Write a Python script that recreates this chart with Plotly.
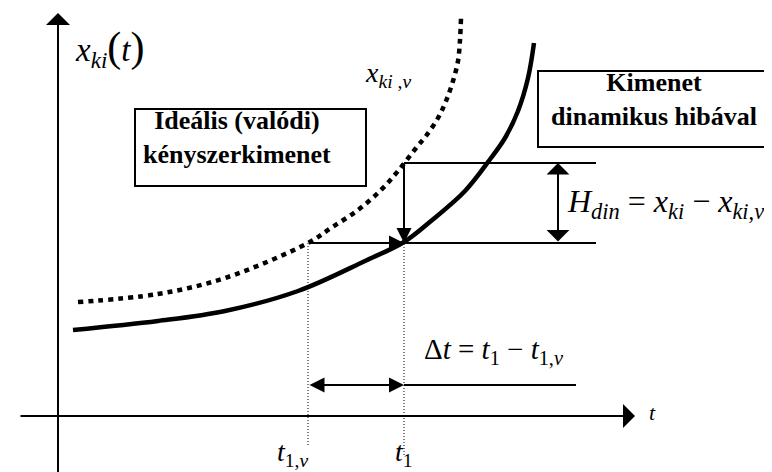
import plotly.graph_objects as go

# ---- data (diagram coordinates: t horizontal, x vertical; origin at axes crossing)
solid_t = [15, 100, 167, 240, 307, 346, 373, 407, 433, 447, 460, 470, 476]
solid_x = [86, 95, 105, 125, 155, 174, 195, 225, 258, 278, 305, 338, 373]

ideal_t = [20, 100, 167, 250, 273, 300, 323, 340, 358, 368, 380, 388, 395, 400, 402, 403]
ideal_x = [114, 122, 138, 173, 188, 206, 226, 245, 268, 280, 298, 315, 335, 355, 376, 398]

T1V = 250      # t_1,v
T1 = 346       # t_1
X_LOW = 173    # x_ki at t1 (= x_ki,v at t1,v)
X_HIGH = 253   # x_ki,v at t1
REF_END = 538
H_ARROW_T = 500
DT_Y = 31
DT_LINE_END = 518

FONT = "Liberation Serif"

fig = go.Figure()
fig.add_trace(go.Scatter(x=ideal_t, y=ideal_x, mode="lines",
                         line=dict(color="black", width=4.5, dash="5px,5px", shape="spline"),
                         hoverinfo="skip"))
fig.add_trace(go.Scatter(x=solid_t, y=solid_x, mode="lines",
                         line=dict(color="black", width=4.5, shape="spline"),
                         hoverinfo="skip"))

shapes = []
def line(x0, y0, x1, y1, width=2, dash=None):
    d = dict(type="line", xref="x", yref="y", x0=x0, y0=y0, x1=x1, y1=y1,
             line=dict(color="black", width=width))
    if dash:
        d["line"]["dash"] = dash
    shapes.append(d)

line(T1, X_HIGH, REF_END, X_HIGH)
line(T1, X_LOW, REF_END, X_LOW)
line(T1, DT_Y, DT_LINE_END, DT_Y)
line(T1V, X_LOW, T1V, -30, width=1, dash="1px,2px")
line(T1, X_HIGH, T1, -39, width=1, dash="1px,2px")
shapes.append(dict(type="rect", xref="x", yref="y", x0=77, y0=230, x1=308, y1=307,
                   line=dict(color="black", width=2), fillcolor="white"))
shapes.append(dict(type="rect", xref="x", yref="y", x0=480, y0=269, x1=720.5, y1=345,
                   line=dict(color="black", width=2), fillcolor="white"))

ann = []
def arrow(x, y, ax, ay, head=2, size=1.4, width=2, both=False):
    d = dict(x=x, y=y, ax=ax, ay=ay, xref="x", yref="y", axref="x", ayref="y",
             text="", showarrow=True, arrowhead=head, arrowsize=size,
             arrowwidth=width, arrowcolor="black", standoff=0, startstandoff=0)
    if both:
        d.update(arrowside="end+start", startarrowhead=head, startarrowsize=size)
    ann.append(d)

arrow(577, 0, -39, 0, head=1, size=2.0, width=2)
arrow(0, 403, 0, -59, head=1, size=2.0, width=2)
arrow(T1, X_LOW, T1, X_HIGH, head=2, size=1.5)
arrow(T1, X_LOW, T1V, X_LOW, head=2, size=1.5)
arrow(H_ARROW_T, X_HIGH, H_ARROW_T, X_LOW, head=1, size=1.9, both=True)
arrow(T1, DT_Y, T1V, DT_Y, head=2, size=1.5, both=True)

def text(t, x, s, size, xanchor="center", yanchor="middle", family=FONT):
    ann.append(dict(x=t, y=x, xref="x", yref="y", text=s, showarrow=False,
                    font=dict(family=family, size=size, color="black"),
                    xanchor=xanchor, yanchor=yanchor))

text(15, 368, "<i>x</i><sub><i>ki</i></sub><span style='font-size:42px'>(</span><i>t</i><span style='font-size:42px'>)</span>", 33, xanchor="left")
text(305, 342, "<i>x</i><sub><i>ki</i> ,<i>v</i></sub>", 28, xanchor="left")
text(507, 213, "<i>H</i><sub><i>din</i></sub> = <i>x</i><sub><i>ki</i></sub> − <i>x</i><sub><i>ki</i>,<i>v</i></sub>", 32, xanchor="left")
text(364, 65, "Δ<i>t</i> = <i>t</i><sub>1</sub> − <i>t</i><sub>1,<i>v</i></sub>", 29, xanchor="left")
text(594, 4, "<i>t</i>", 22)
text(217, -57, "<i>t</i><sub>1,<i>v</i></sub>", 28, xanchor="left", yanchor="bottom")
text(335, -57, "<i>t</i><sub>1</sub>", 28, xanchor="left", yanchor="bottom")
text(179, 279, "<b>Ideális (valódi)<br>kényszerkimenet</b>", 26)
text(596, 317, "<b>Kimenet<br>dinamikus hibával</b>", 26)

fig.update_layout(
    width=772, height=472,
    margin=dict(l=0, r=0, t=0, b=0),
    paper_bgcolor="white", plot_bgcolor="white",
    showlegend=False,
    font=dict(family=FONT),
    xaxis=dict(range=[-50, 722], visible=False, fixedrange=True),
    yaxis=dict(range=[-64, 408], visible=False, fixedrange=True),
    shapes=shapes, annotations=ann,
)
fig.write_html("out.html")
